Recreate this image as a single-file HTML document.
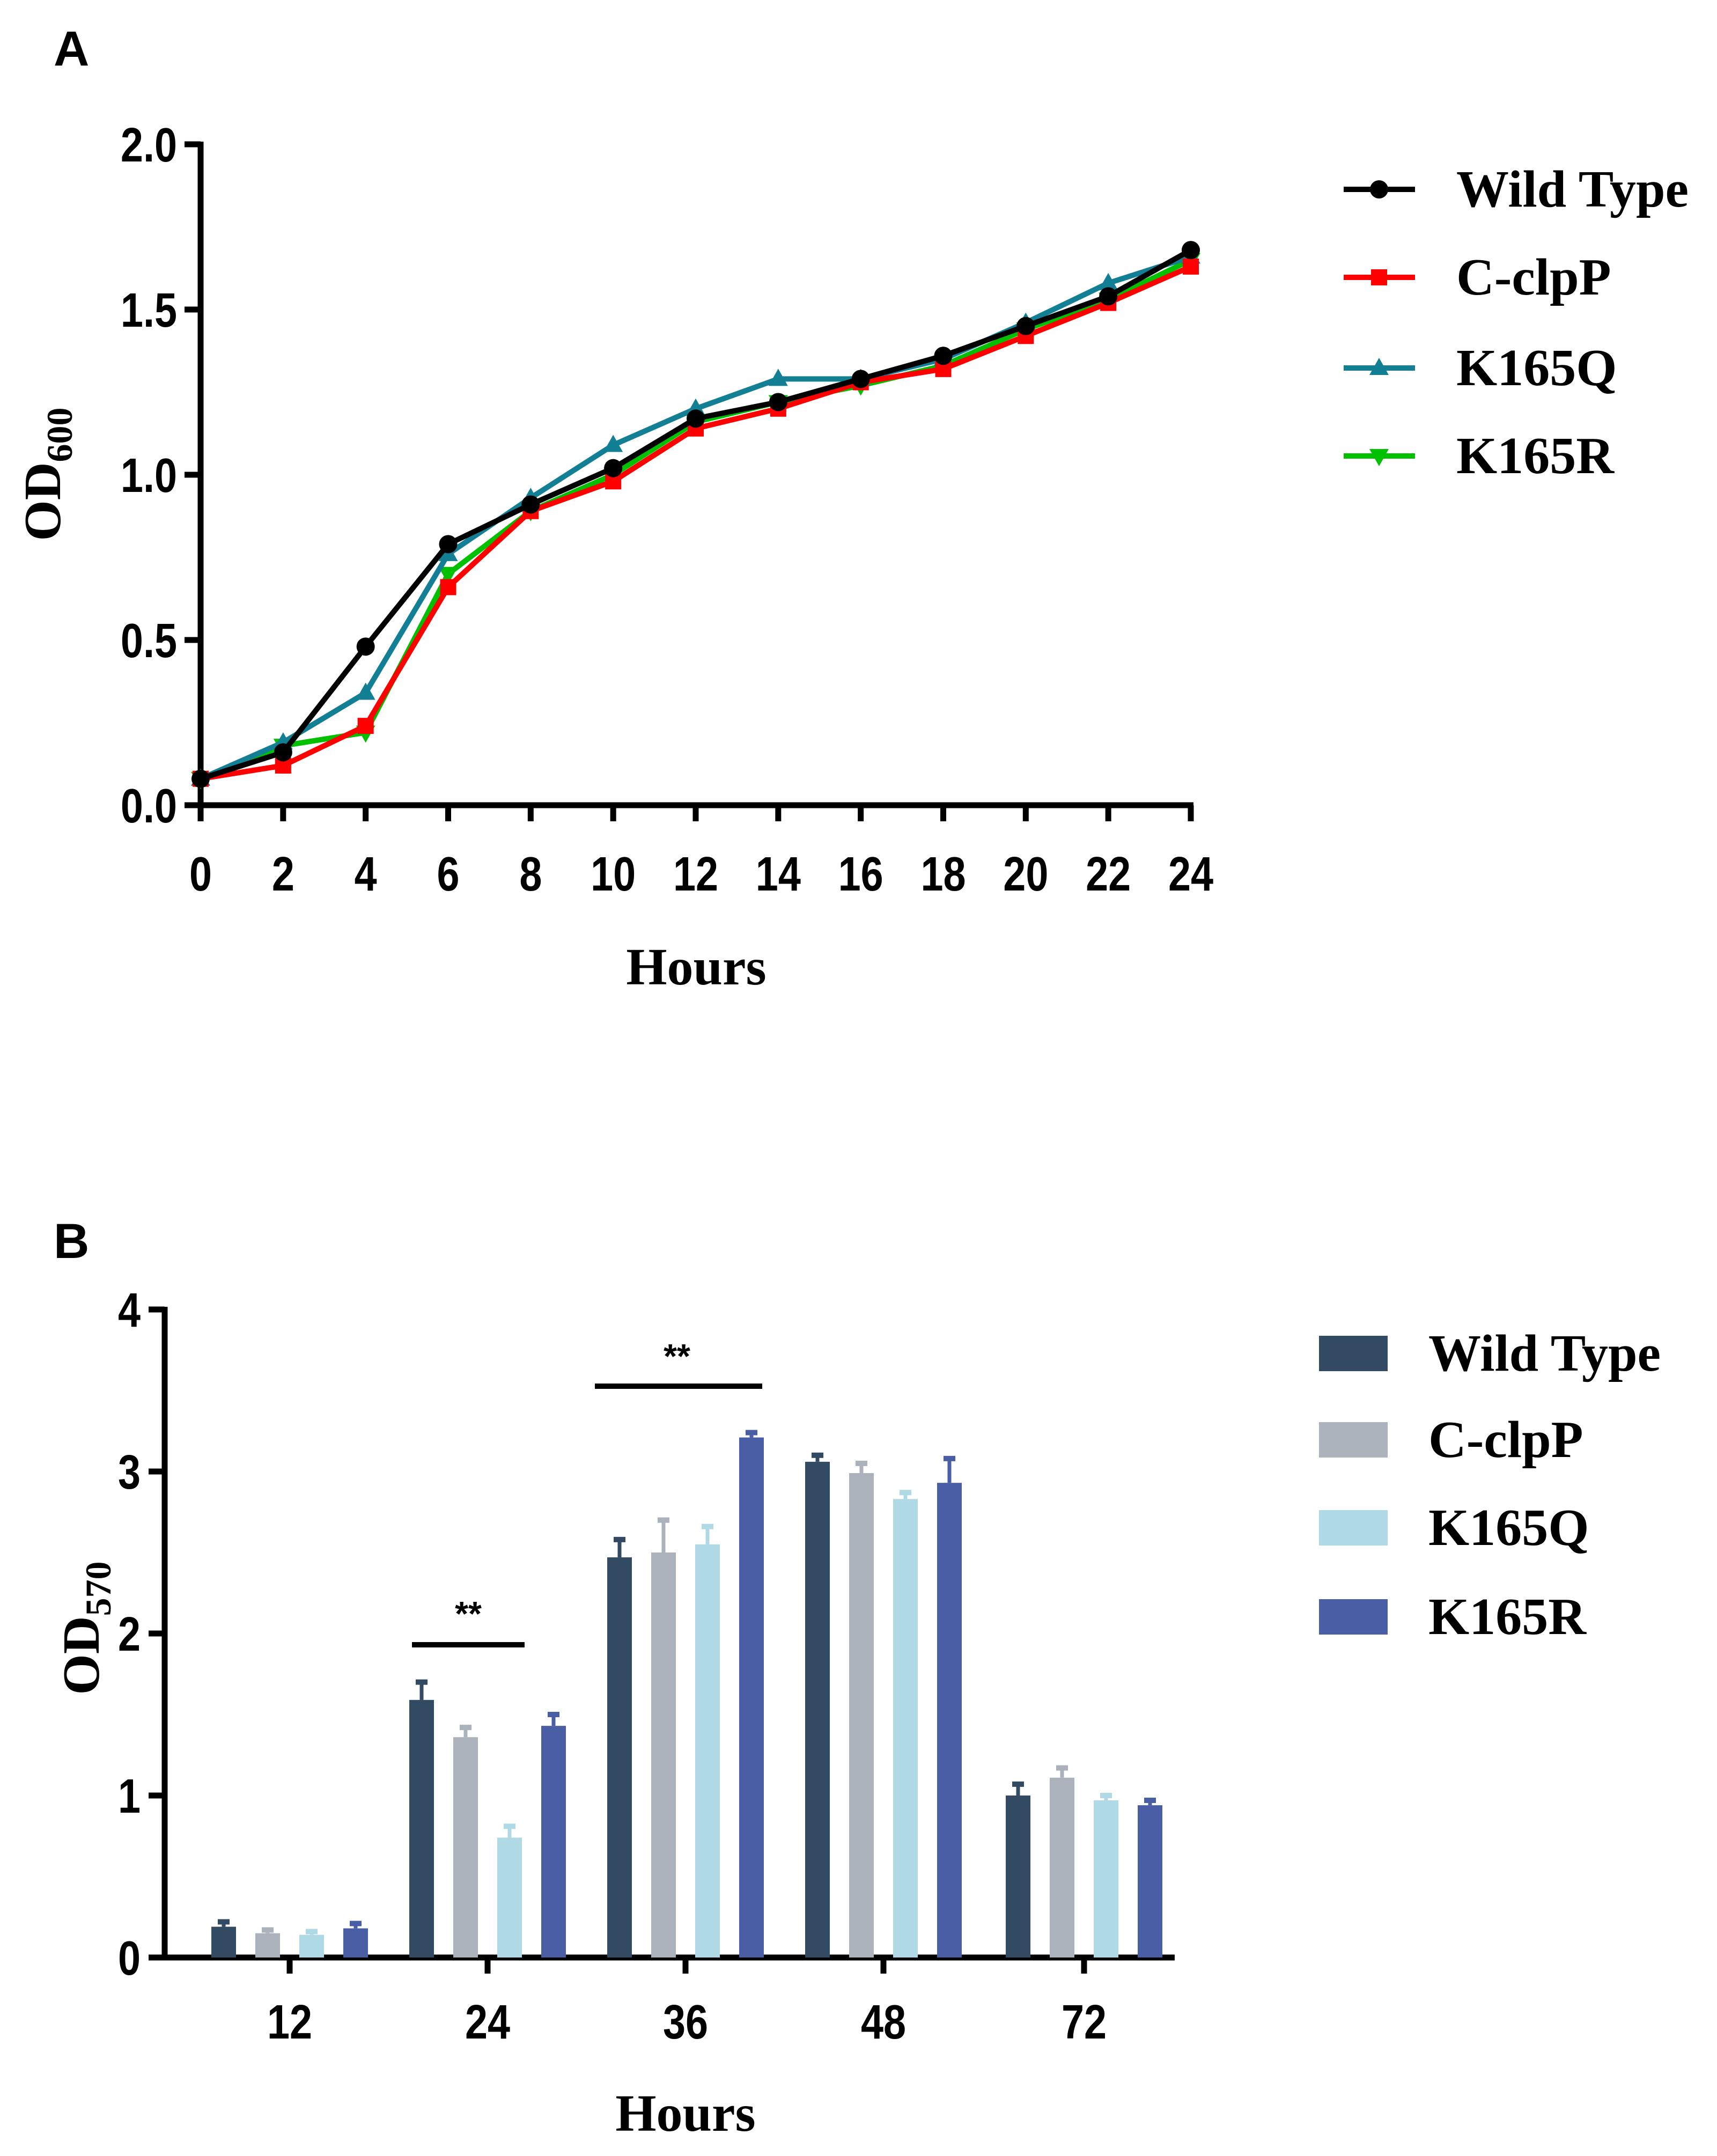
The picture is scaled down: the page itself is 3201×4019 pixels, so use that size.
<!DOCTYPE html>
<html><head><meta charset="utf-8"><style>body{margin:0;background:#fff}svg{display:block}</style></head>
<body>
<svg id="fig" width="3201" height="4019" viewBox="0 0 3201 4019" xmlns="http://www.w3.org/2000/svg">
<rect width="3201" height="4019" fill="#fff"/>
<g id="A"></g>
<g id="B"></g>
</svg>
<script>
const hours=[0,2,4,6,8,10,12,14,16,18,20,22,24];
const wtA=[0.08,0.16,0.48,0.79,0.91,1.02,1.17,1.22,1.29,1.36,1.45,1.54,1.68];
const clpA=[0.08,0.12,0.24,0.66,0.89,0.98,1.14,1.20,1.28,1.32,1.42,1.52,1.63];
const qA=[0.08,0.19,0.34,0.76,0.93,1.09,1.20,1.29,1.29,1.35,1.46,1.58,1.66];
const rA=[0.08,0.18,0.22,0.70,0.89,1.00,1.16,1.22,1.27,1.33,1.44,1.53,1.65];
const yTicksA=[0,0.5,1.0,1.5,2.0];
const seriesNames=["Wild Type","C-clpP","K165Q","K165R"];
const groupsB=["12","24","36","48","72"];
const wtB=[0.19,1.59,2.47,3.06,1.00], wtE=[0.03,0.11,0.11,0.04,0.07];
const clpB=[0.15,1.36,2.50,2.99,1.11], clpE=[0.02,0.06,0.20,0.06,0.06];
const qB=[0.14,0.74,2.55,2.83,0.97], qE=[0.02,0.07,0.11,0.04,0.03];
const rB=[0.18,1.43,3.21,2.93,0.94], rE=[0.03,0.07,0.03,0.15,0.03];
const yTicksB=[0,1,2,3,4];

const NS="http://www.w3.org/2000/svg";
function mk(p,tag,at,txt){const e=document.createElementNS(NS,tag);for(const k in at)e.setAttribute(k,at[k]);if(txt!==undefined)e.textContent=txt;p.appendChild(e);return e;}
const SANS='"Liberation Sans", Arial, sans-serif', SERIF='"Liberation Serif", "Times New Roman", serif';
function tick(p,x,y,anchor,s){return mk(p,'text',{transform:`translate(${x},${y}) scale(0.84,1)`,'text-anchor':anchor,'font-family':SANS,'font-weight':'bold','font-size':90},s);}

// Panel A
const A=document.getElementById('A');
const ax=h=>374+(h-0)/24*(2220-374), ay=v=>1501-v/2*(1501-269);
let t=mk(A,'text',{x:100,y:122,'font-family':SANS,'font-weight':'bold','font-size':92},'A');

let g=mk(A,'g',{});
mk(g,'line',{x1:374,y1:264,x2:374,y2:1506,stroke:'#000','stroke-width':11});
yTicksA.forEach(v=>{mk(g,'line',{x1:344,x2:374,y1:ay(v),y2:ay(v),stroke:'#000','stroke-width':11});
 const e=tick(g,330,ay(v)+32,'end',v.toFixed(1));
 });
g=mk(A,'g',{});
mk(g,'line',{x1:369,y1:1501,x2:2225,y2:1501,stroke:'#000','stroke-width':11});
hours.forEach(h=>{mk(g,'line',{x1:ax(h),x2:ax(h),y1:1501,y2:1531,stroke:'#000','stroke-width':11});
 const e=tick(g,ax(h),1660,'middle',String(h));
 });
t=mk(A,'text',{x:1298,y:1835,'text-anchor':'middle','font-family':SERIF,'font-weight':'bold','font-size':98},'Hours');

t=mk(A,'text',{transform:'translate(112,884) rotate(-90)','text-anchor':'middle','font-family':SERIF,'font-weight':'bold','font-size':98});

t.innerHTML='OD<tspan font-size="68" dy="22">600</tspan>';
const colA=['#000000','#ff0000','#127f95','#00c000'];
const dataA=[wtA,clpA,qA,rA];
function marker(p,type,x,y,c){
 if(type===0) return mk(p,'circle',{cx:x,cy:y,r:17,fill:c});
 if(type===1) return mk(p,'rect',{x:x-15,y:y-15,width:30,height:30,fill:c});
 if(type===2) return mk(p,'polygon',{points:`${x},${y-19} ${x-18},${y+13} ${x+18},${y+13}`,fill:c});
 return mk(p,'polygon',{points:`${x},${y+19} ${x-18},${y-13} ${x+18},${y-13}`,fill:c});
}
[3,2,1,0].forEach(i=>{
 const s=mk(A,'g',{});
 mk(s,'polyline',{points:hours.map((h,j)=>ax(h)+','+ay(dataA[i][j])).join(' '),fill:'none',stroke:colA[i],'stroke-width':10,'stroke-linejoin':'round'});
 hours.forEach((h,j)=>{const m=marker(s,i,ax(h),ay(dataA[i][j]),colA[i]);});
});
const legYA=[353,517,686,850];
seriesNames.forEach((n,i)=>{
 const l=mk(A,'g',{});
 mk(l,'line',{x1:2505,x2:2638,y1:legYA[i],y2:legYA[i],stroke:colA[i],'stroke-width':10});
 marker(l,i,2571,legYA[i],colA[i]);
 mk(l,'text',{x:2715,y:legYA[i]+32,'font-family':SERIF,'font-weight':'bold','font-size':98},n);
});

// Panel B
const B=document.getElementById('B');
const by=v=>3649-v*302;
const gx=i=>[540,909,1278,1647,2021][i];
t=mk(B,'text',{x:100,y:2345,'font-family':SANS,'font-weight':'bold','font-size':92},'B');

g=mk(B,'g',{});
mk(g,'line',{x1:307,y1:2436,x2:307,y2:3654,stroke:'#000','stroke-width':11});
yTicksB.forEach(v=>{mk(g,'line',{x1:277,x2:307,y1:by(v),y2:by(v),stroke:'#000','stroke-width':11});
 const e=tick(g,262,by(v)+32,'end',String(v));
 });
g=mk(B,'g',{});
mk(g,'line',{x1:302,y1:3649,x2:2190,y2:3649,stroke:'#000','stroke-width':11});
groupsB.forEach((c,i)=>{mk(g,'line',{x1:gx(i),x2:gx(i),y1:3649,y2:3679,stroke:'#000','stroke-width':11});
 const e=tick(g,gx(i),3800,'middle',c);
 });
t=mk(B,'text',{x:1278,y:3972,'text-anchor':'middle','font-family':SERIF,'font-weight':'bold','font-size':98},'Hours');

t=mk(B,'text',{transform:'translate(184,3035) rotate(-90)','text-anchor':'middle','font-family':SERIF,'font-weight':'bold','font-size':98});

t.innerHTML='OD<tspan font-size="68" dy="22">570</tspan>';
const colB=['#334a63','#abb2bc','#b0d9e6','#4a5ea6'];
const dataB=[wtB,clpB,qB,rB], errB=[wtE,clpE,qE,rE];
const offs=[-123,-41,41,123];
dataB.forEach((arr,s)=>{
 const sg=mk(B,'g',{});
 arr.forEach((v,i)=>{
  const x=gx(i)+offs[s], top=by(v), et=by(v+errB[s][i]);
  mk(sg,'line',{x1:x,x2:x,y1:top,y2:et,stroke:colB[s],'stroke-width':7});
  mk(sg,'line',{x1:x-11,x2:x+11,y1:et,y2:et,stroke:colB[s],'stroke-width':10});
  const r=mk(sg,'rect',{x:x-23,y:top,width:46,height:3649-top,fill:colB[s]});
  
 });
});
[[768,978,3066,873,3030],[1109,1421,2584,1262,2550]].forEach(a=>{
 const s=mk(B,'g',{});
 mk(s,'line',{x1:a[0],x2:a[1],y1:a[2],y2:a[2],stroke:'#000','stroke-width':10});
 mk(s,'text',{x:a[3],y:a[4],'text-anchor':'middle','font-family':SANS,'font-weight':'bold','font-size':64},'**');
});
const legYB=[2523,2684,2848,3014];
seriesNames.forEach((n,i)=>{
 const l=mk(B,'g',{});
 mk(l,'rect',{x:2459,y:legYB[i]-33,width:128,height:66,fill:colB[i]});
 mk(l,'text',{x:2663,y:legYB[i]+32,'font-family':SERIF,'font-weight':'bold','font-size':98},n);
});
</script>
</body></html>
